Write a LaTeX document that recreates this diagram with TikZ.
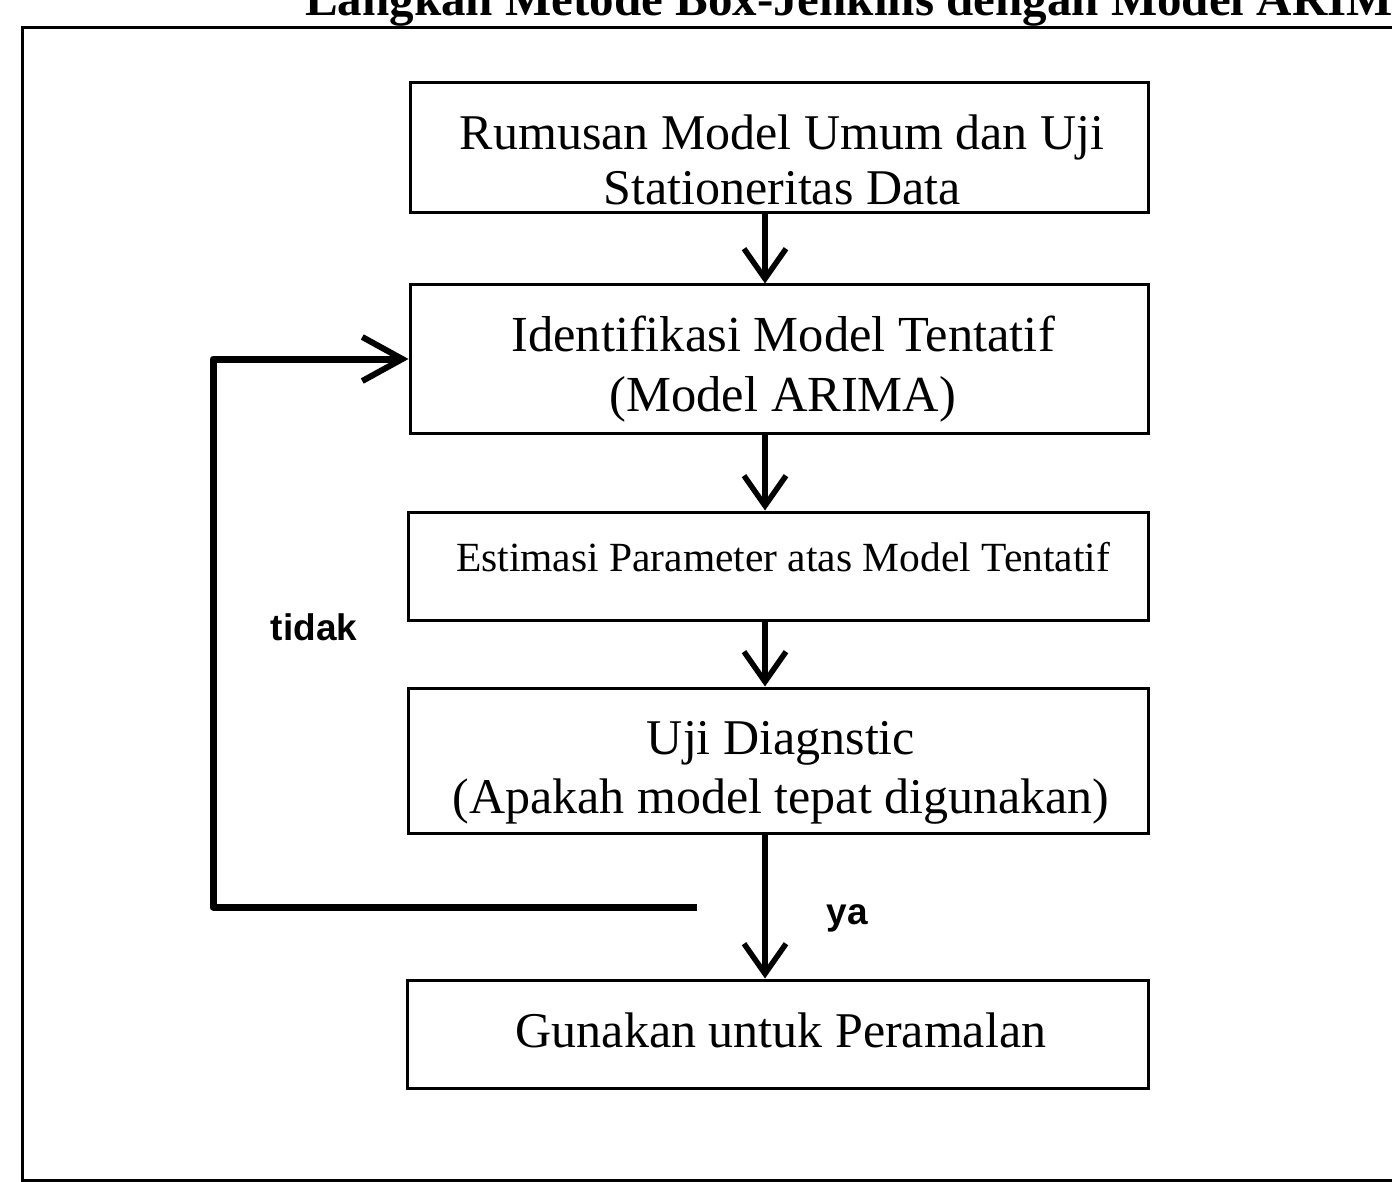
\documentclass[tikz,border=0pt]{standalone}
\usepackage{fontspec}
\setmainfont{Liberation Serif}
\newfontfamily\lblfont{Liberation Sans}
\usetikzlibrary{arrows.meta}
\tikzset{
  stepbox/.style={draw=black, line width=3pt, inner sep=0pt},
  boxtext/.style={align=center, inner sep=0pt},
  flow/.style={line width=5.5pt, -{Straight Barb[length=30pt,width=42pt,line width=5.5pt]}},
  back/.style={line width=7pt, line join=round},
  lbl/.style={font=\lblfont\bfseries\fontsize{37}{40}\selectfont, inner sep=0pt}
}
\begin{document}
\begin{tikzpicture}[x=1pt,y=-1pt]
\useasboundingbox (0,0) rectangle (1392,1182);
\clip (0,0) rectangle (1392,1182);
\fill[white] (0,0) rectangle (1392,1182);
% frame
\draw[line width=3pt] (1392,28) -- (22,28) -- (22,1180) -- (1392,1180);
% title (cut by the top edge)
\node[anchor=base west, inner sep=0pt, font=\bfseries\fontsize{49}{52}\selectfont] (title) at (305,16) {Langkah Metode Box-Jenkins dengan Model ARIMA};
% boxes
\node[stepbox, minimum width=738pt, minimum height=130pt] (b1) at (779,148) {};
\node[boxtext, font=\fontsize{50}{55}\selectfont] (t1) at (782,160) {Rumusan Model Umum dan Uji\\Stationeritas Data};
\node[stepbox, minimum width=738pt, minimum height=148pt] (b2) at (779,359) {};
\node[boxtext, font=\fontsize{50.5}{60}\selectfont] (t2) at (783,369) {Identifikasi Model Tentatif\\(Model ARIMA)};
\node[stepbox, minimum width=740pt, minimum height=108pt] (b3) at (778,566) {};
\node[boxtext, font=\fontsize{41.5}{45}\selectfont] (t3) at (783,557) {Estimasi Parameter atas Model Tentatif};
\node[stepbox, minimum width=740pt, minimum height=145pt] (b4) at (778,760.5) {};
\node[boxtext, font=\fontsize{50}{59}\selectfont] (t4) at (781,773) {Uji Diagnstic\\(Apakah model tepat digunakan)};
\node[stepbox, minimum width=741pt, minimum height=108pt] (b5) at (777.5,1034) {};
\node[boxtext, font=\fontsize{50}{55}\selectfont] (t5) at (781,1030) {Gunakan untuk Peramalan};
% arrow axis
\coordinate (ax) at (765,0);
\draw[flow] (b1.south -| ax) -- (b2.north -| ax);
\draw[flow] (b2.south -| ax) -- (b3.north -| ax);
\draw[flow] (b3.south -| ax) -- (b4.north -| ax);
\draw[flow] (b4.south -| ax) -- (b5.north -| ax);
% feedback loop
\coordinate (fb) at (697,907);
\draw[back, -{Straight Barb[length=40pt,width=44pt,line width=6pt]}] (fb) -- (213,907) |- (b2.west);
% labels
\node[lbl] (tidak) at (314,627) {tidak};
\node[lbl] (ya) at (847,918) {ya};
\end{tikzpicture}
\end{document}
